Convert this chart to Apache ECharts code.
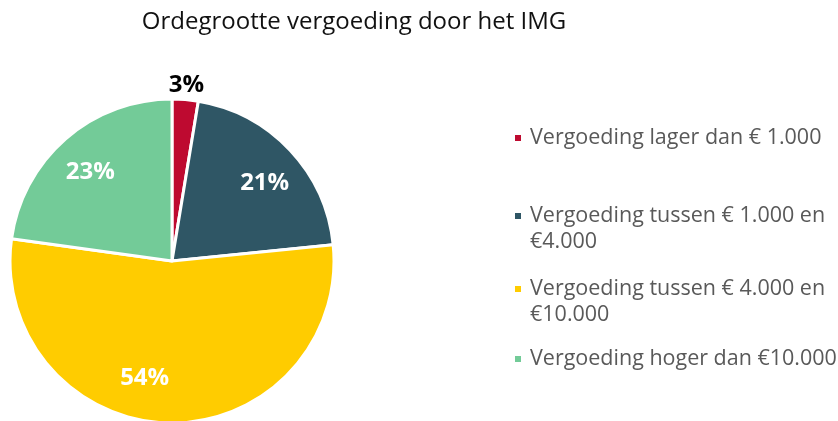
<!DOCTYPE html>
<html>
<head>
<meta charset="utf-8">
<script src="https://cdn.jsdelivr.net/npm/echarts@6/dist/echarts.min.js"></script>
<style>
  html, body { margin: 0; padding: 0; background: #fff; }
  #chart { width: 838px; height: 421px; }
</style>
</head>
<body>
<div id="chart"></div>
<script>
// categories and values (percentages)
var categories = [
    'Vergoeding lager dan € 1.000',
    'Vergoeding tussen € 1.000 en €4.000',
    'Vergoeding tussen € 4.000 en €10.000',
    'Vergoeding hoger dan €10.000'
];
var legendLabels = [
    'Vergoeding lager dan € 1.000',
    'Vergoeding tussen € 1.000 en\n€4.000',
    'Vergoeding tussen € 4.000 en\n€10.000',
    'Vergoeding hoger dan €10.000'
];
var values = [2.6, 20.8, 53.8, 22.8];
var colors = ['#be0a30', '#2f5665', '#ffcc00', '#73cb98'];

var font = '"Open Sans", "Noto Sans", sans-serif';
var chart = echarts.init(document.getElementById('chart'));

var pieData = categories.map(function (name, i) {
    return { name: name, value: values[i], itemStyle: { color: colors[i] } };
});

// nudges for the inside labels (Excel does not put them exactly mid-slice)
var labelPads = [null, [0, 0, 0, 6], [0, 50, 0, 0], [0, 2, 0, 0]];
var labelShift = [0, 6, -6, 4]; // px down (+) / up (-)

function pct(p) {
    var t = '{v|' + Math.round(p.percent) + '%}';
    var s = labelShift[p.dataIndex];
    if (s > 0) return '{d' + s + '| }\n' + t;
    if (s < 0) return t + '\n{d' + (-s) + '| }';
    return t;
}

var spacers = {
    d4: { fontSize: 1, lineHeight: 8 },
    d6: { fontSize: 1, lineHeight: 12 }
};

// one legend per item so each can sit where the picture has it
var legendTops = [120, 172, 245, 341];
var legends = categories.map(function (name, i) {
    var twoLines = legendLabels[i].indexOf('\n') >= 0;
    return {
        orient: 'vertical',
        left: 508,
        top: legendTops[i],
        data: [name],
        icon: 'rect',
        itemWidth: 8,
        itemHeight: 8,
        selectedMode: false,
        // blank first line keeps the marker level with the first text line
        formatter: function () { return twoLines ? ' \n' + legendLabels[i] : legendLabels[i]; },
        textStyle: {
            fontFamily: font,
            fontSize: 21.5,
            lineHeight: 26,
            color: '#595959',
            padding: [0, 0, 0, 3]
        }
    };
});

var option = {
    animation: false,
    title: {
        text: 'Ordegrootte vergoeding door het IMG',
        left: 349,
        textAlign: 'center',
        top: 5,
        textStyle: { fontFamily: font, fontSize: 24, fontWeight: 'normal', color: '#111' }
    },
    legend: legends,
    series: [
        {
            name: 'vergoeding',
            type: 'pie',
            center: [172, 261],
            radius: 162,
            startAngle: 90,
            silent: true,
            itemStyle: { borderColor: '#fff', borderWidth: 3 },
            label: { show: false },
            labelLine: { show: false },
            data: pieData
        },
        {
            // transparent ring only used to place the white labels
            name: 'labelsIn',
            type: 'pie',
            center: [172, 261],
            radius: 240,
            startAngle: 90,
            silent: true,
            itemStyle: { color: 'rgba(0,0,0,0)' },
            labelLine: { show: false },
            label: {
                position: 'inside',
                formatter: pct,
                rich: {
                    v: { fontFamily: font, fontSize: 24, fontWeight: 'bold', color: '#fff' },
                    d4: spacers.d4,
                    d6: spacers.d6
                }
            },
            data: categories.map(function (name, i) {
                var d = { name: name, value: values[i] };
                if (i === 0) d.label = { show: false };
                else d.label = { padding: labelPads[i] };
                return d;
            })
        },
        {
            name: 'labelsOut',
            type: 'pie',
            center: [172, 261],
            radius: 346,
            startAngle: 90,
            silent: true,
            itemStyle: { color: 'rgba(0,0,0,0)' },
            labelLine: { show: false },
            label: {
                position: 'inside',
                formatter: pct,
                rich: {
                    v: { fontFamily: font, fontSize: 24, fontWeight: 'bold', color: '#000' }
                }
            },
            data: categories.map(function (name, i) {
                var d = { name: name, value: values[i] };
                if (i !== 0) d.label = { show: false };
                return d;
            })
        }
    ]
};
chart.setOption(option);
</script>
</body>
</html>
